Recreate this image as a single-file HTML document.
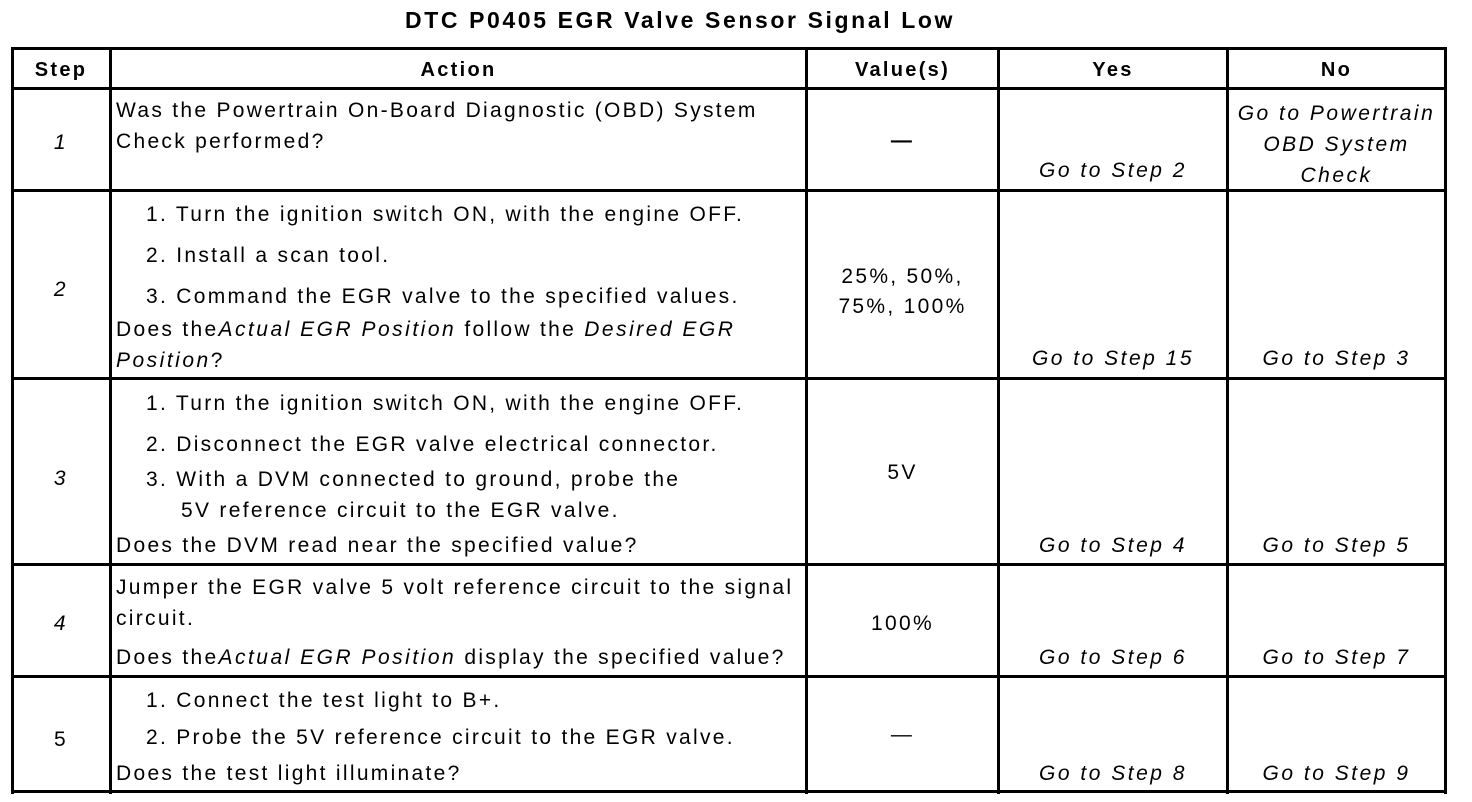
<!DOCTYPE html>
<html><head><style>
body{margin:0;width:1472px;height:802px;background:#fff;position:relative;overflow:hidden;font-family:"Liberation Sans",Arial,sans-serif;color:#000}
.h,.v{position:absolute;background:#000}
.h{height:3px;left:11px;width:1436px}
.v{width:3px;top:48px;height:746px}
.t{position:absolute;font-size:21px;line-height:22px;white-space:nowrap;letter-spacing:2.3px}
.c{text-align:center}
i{font-style:italic;letter-spacing:2.5px}
</style></head><body>
<div class="t" style="left:0;width:1360px;top:7px;text-align:center;font-weight:bold;font-size:23px;line-height:26px;letter-spacing:2.6px">DTC P0405 EGR Valve Sensor Signal Low</div>
<div class="h" style="top:47px"></div>
<div class="h" style="top:87px"></div>
<div class="h" style="top:189px"></div>
<div class="h" style="top:377px"></div>
<div class="h" style="top:563px"></div>
<div class="h" style="top:675px"></div>
<div class="h" style="top:790px"></div>
<div class="v" style="left:11px"></div>
<div class="v" style="left:109px"></div>
<div class="v" style="left:805px"></div>
<div class="v" style="left:997px"></div>
<div class="v" style="left:1226px"></div>
<div class="v" style="left:1444px"></div>

<div class="t c" style="left:12px;width:98px;top:59px;font-weight:bold;font-size:20px">Step</div>
<div class="t c" style="left:112px;width:693px;top:59px;font-weight:bold;font-size:20px">Action</div>
<div class="t c" style="left:808px;width:189px;top:59px;font-weight:bold;font-size:20px">Value(s)</div>
<div class="t c" style="left:1000px;width:226px;top:59px;font-weight:bold;font-size:20px">Yes</div>
<div class="t c" style="left:1229px;width:215px;top:59px;font-weight:bold;font-size:20px">No</div>

<div class="t c" style="left:12px;width:98px;top:132px"><i>1</i></div>
<div class="t" style="left:116px;top:100px">Was the Powertrain On-Board Diagnostic (OBD) System</div>
<div class="t" style="left:116px;top:131px">Check performed?</div>
<div class="t c" style="left:808px;width:189px;top:130px;font-weight:bold">—</div>
<div class="t c" style="left:1000px;width:226px;top:160px"><i>Go to Step 2</i></div>
<div class="t c" style="left:1229px;width:215px;top:98px;line-height:31px"><i>Go to Powertrain<br>OBD System<br>Check</i></div>

<div class="t c" style="left:12px;width:98px;top:279px"><i>2</i></div>
<div class="t" style="left:146px;top:204px">1. Turn the ignition switch ON, with the engine OFF.</div>
<div class="t" style="left:146px;top:245px">2. Install a scan tool.</div>
<div class="t" style="left:146px;top:286px">3. Command the EGR valve to the specified values.</div>
<div class="t" style="left:116px;top:319px">Does the<i>Actual EGR Position</i> follow the <i>Desired EGR</i></div>
<div class="t" style="left:116px;top:350px"><i>Position</i>?</div>
<div class="t c" style="left:808px;width:189px;top:262px;line-height:30px">25%, 50%,<br>75%, 100%</div>
<div class="t c" style="left:1000px;width:226px;top:348px"><i>Go to Step 15</i></div>
<div class="t c" style="left:1229px;width:215px;top:348px"><i>Go to Step 3</i></div>

<div class="t c" style="left:12px;width:98px;top:468px"><i>3</i></div>
<div class="t" style="left:146px;top:393px">1. Turn the ignition switch ON, with the engine OFF.</div>
<div class="t" style="left:146px;top:434px">2. Disconnect the EGR valve electrical connector.</div>
<div class="t" style="left:146px;top:469px">3. With a DVM connected to ground, probe the</div>
<div class="t" style="left:181px;top:500px">5V reference circuit to the EGR valve.</div>
<div class="t" style="left:116px;top:535px">Does the DVM read near the specified value?</div>
<div class="t c" style="left:808px;width:189px;top:462px">5V</div>
<div class="t c" style="left:1000px;width:226px;top:535px"><i>Go to Step 4</i></div>
<div class="t c" style="left:1229px;width:215px;top:535px"><i>Go to Step 5</i></div>

<div class="t c" style="left:12px;width:98px;top:613px"><i>4</i></div>
<div class="t" style="left:116px;top:577px">Jumper the EGR valve 5 volt reference circuit to the signal</div>
<div class="t" style="left:116px;top:608px">circuit.</div>
<div class="t" style="left:116px;top:647px">Does the<i>Actual EGR Position</i> display the specified value?</div>
<div class="t c" style="left:808px;width:189px;top:613px">100%</div>
<div class="t c" style="left:1000px;width:226px;top:647px"><i>Go to Step 6</i></div>
<div class="t c" style="left:1229px;width:215px;top:647px"><i>Go to Step 7</i></div>

<div class="t c" style="left:12px;width:98px;top:729px">5</div>
<div class="t" style="left:146px;top:690px">1. Connect the test light to B+.</div>
<div class="t" style="left:146px;top:727px">2. Probe the 5V reference circuit to the EGR valve.</div>
<div class="t" style="left:116px;top:763px">Does the test light illuminate?</div>
<div class="t c" style="left:808px;width:189px;top:724px">—</div>
<div class="t c" style="left:1000px;width:226px;top:763px"><i>Go to Step 8</i></div>
<div class="t c" style="left:1229px;width:215px;top:763px"><i>Go to Step 9</i></div>
</body></html>
